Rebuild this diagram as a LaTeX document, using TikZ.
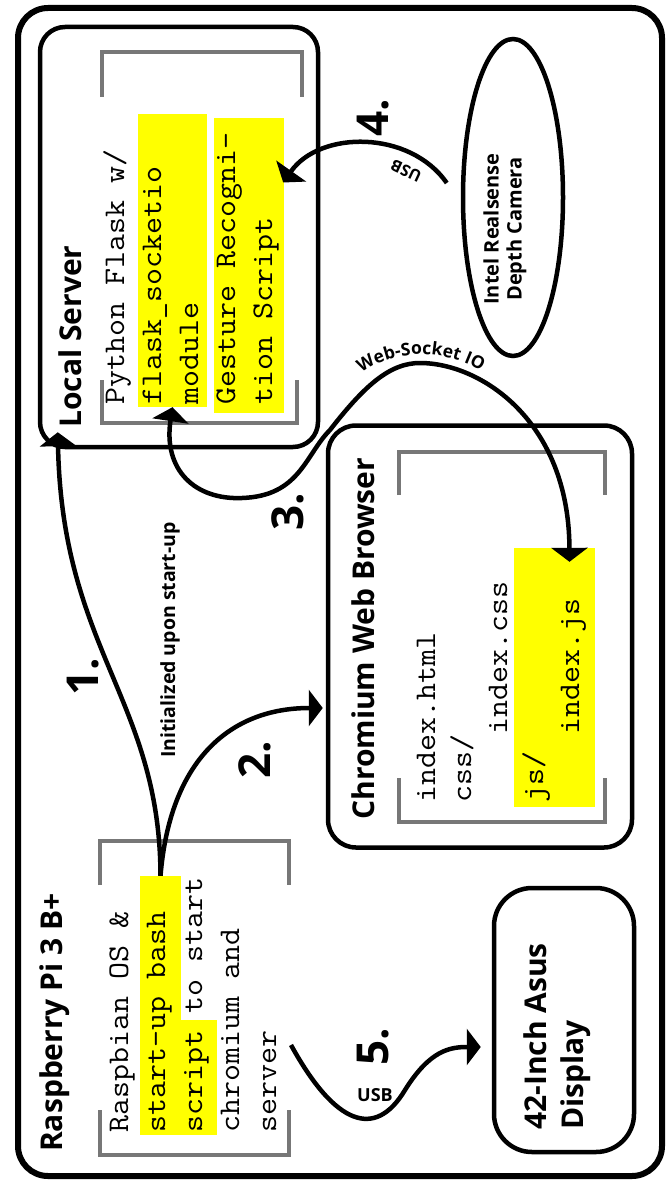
\documentclass[tikz,border=0pt]{standalone}
\usepackage{fontspec}
\setsansfont{Open Sans}
\setmonofont[FakeStretch=1.1]{Latin Modern Mono}
\usepackage{tikz}
\usetikzlibrary{positioning,arrows.meta,calc,shapes.geometric,decorations.text}
\definecolor{pigray}{RGB}{119,119,119}
\definecolor{piyellow}{RGB}{255,255,0}
\newcommand\codefont{\ttfamily\fontsize{30}{37}\selectfont}
\newcommand\boxfont{\sffamily\bfseries\fontsize{30}{37}\selectfont}
\newcommand\notefont{\sffamily\bfseries\fontsize{18}{23}\selectfont}

\begin{document}
\begin{tikzpicture}[x=1pt, y=-1pt,
  box/.style={draw, line width=4.5pt, rounded corners=25pt, inner sep=0pt},
  hl/.style={fill=piyellow, inner sep=0pt},
  code/.style={font=\codefont, rotate=90, anchor=base west, align=left, inner sep=0pt},
  title/.style={font=\boxfont, rotate=90, anchor=base west, align=left, inner sep=0pt},
  note/.style={font=\notefont, inner sep=0pt},
  num/.style={font=\sffamily\bfseries\fontsize{44}{44}\selectfont, rotate=90, inner sep=0pt},
  brk/.style={draw=pigray, line width=4pt},
  line/.style={line width=4.5pt, -{Triangle[length=14pt, width=36pt]}},
]
\useasboundingbox (0,0) rectangle (666,1180);

% boxes
\node[box, line width=6pt, rounded corners=30pt, minimum width=644pt, minimum height=1168pt] (rpi) at (340,592) {};
\node[box, minimum width=278pt, minimum height=420pt] (lsrv) at (179,237) {};
\node[box, rounded corners=28pt, minimum width=304pt, minimum height=422pt] (chrom) at (480,636.5) {};
\node[box, rounded corners=38pt, minimum width=140pt, minimum height=264pt] (disp) at (564,1020) {};
\node[draw, ellipse, line width=4.5pt, minimum width=100pt, minimum height=317pt, inner sep=0pt] (cam) at (513,197.5) {};

% highlighted parts
\node[hl, minimum width=69pt, minimum height=293pt] (sock) at (172.5,260.5) {};
\node[hl, minimum width=70pt, minimum height=295pt] (gest) at (249,265.5) {};
\node[hl, minimum width=81pt, minimum height=259pt] (js) at (554.5,677.5) {};
\node[hl, minimum width=41pt, minimum height=259pt] (bash) at (160.5,1005.5) {};
\node[hl, minimum width=36pt, minimum height=115pt] (scrpt) at (199,1077.5) {};

% brackets round the file lists
\draw[brk] (102,97) -- (102,52) -- (302,52) -- (302,97);
\draw[brk] (102,380) -- (102,423) -- (297,423) -- (297,380);
\draw[brk] (399,495) -- (399,452) -- (605,452) -- (605,495);
\draw[brk] (399,778) -- (399,822) -- (605,822) -- (605,778);
\draw[brk] (100,885) -- (100,841) -- (289,841) -- (289,885);
\draw[brk] (100,1110) -- (100,1155) -- (289,1155) -- (289,1110);

% texts (multi-line nodes sit on their last baseline)
\node[title] (lsrvtitle) at (81,428) {Local Server};
\node[title] (chromtitle) at (374,820) {Chromium Web Browser};
\node[title] (rpititle) at (62,1152) {Raspberry Pi 3 B+};
\node[title] (disptxt) at (583,1130) {42-Inch Asus\\Display};
\node[note, font=\sffamily\bfseries\fontsize{20}{23}\selectfont, rotate=90, align=center] (camtxt) at (505,229) {Intel Realsense\\Depth Camera};

\node[code] (lsrvtxt) at (272,405) {Python Flask w/\\flask\_socketio\\module\\Gesture Recogni-\\tion Script};
\node[code, font=\ttfamily\fontsize{30}{36}\selectfont] (chromtxt) at (579,803) {index.html\\css/\\\hphantom{abcd}index.css\\js/\\\hphantom{abcd}index.js};
\node[code] (rpitxt) at (276,1133) {Raspbian OS \&\\start-up bash\\script to start\\chromium and\\server};

% steps
\node[num] (n1) at (83,677) {1.};
\node[num] (n2) at (255,760) {2.};
\node[num] (n3) at (288,512) {3.};
\node[num] (n4) at (373,118) {4.};
\node[num] (n5) at (373,1047) {5.};

\node[note, font=\sffamily\bfseries\fontsize{19.5}{23}\selectfont, rotate=90] (init) at (170,640) {Initialized upon start-up};
\node[note, font=\sffamily\bfseries\fontsize{16}{20}\selectfont, rotate=155] (usb4) at (406,171) {USB};
\node[note] (usb5) at (375,1095) {USB};

\coordinate (usbout) at (291,1045);

% connectors
\draw[line] (bash.north) .. controls (160,700) and (62,650) .. ($(lsrv.south west)+(20,-17)$);
\draw[line] (bash.north) .. controls (170,760) and (230,708) .. ($(chrom.west)+(-3,71.5)$);
\draw[line, {Triangle[length=14pt, width=36pt]}-{Triangle[length=14pt, width=36pt]}] (sock.south)
  .. controls (163,470) and (195,500) .. (242,498)
  .. controls (300,496) and (305,455) .. (330,430)
  .. controls (365,385) and (390,363) .. (420,363)
  .. controls (480,363) and (569,420) .. ($(js.north)+(15,14)$);
\path[decorate, decoration={text along path, text align=center,
  text={|\sffamily\bfseries\fontsize{17.5}{20}\selectfont|Web-Socket IO}}]
  (345,390) .. controls (378,345) and (455,342) .. (500,385);
\draw[line] ($(cam.west)+(-14,-14.5)$) .. controls (410,130) and (320,130) .. ($(gest.east)+(-1,-83)$);
\draw[line] (usbout) .. controls (335,1125) and (375,1140) .. (405,1090)
  .. controls (430,1050) and (450,1047) .. ($(disp.west)+(-11,27)$);
\end{tikzpicture}
\end{document}
